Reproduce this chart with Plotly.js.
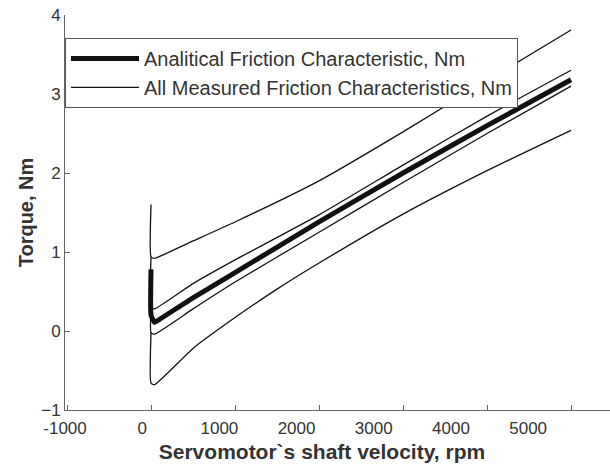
<!DOCTYPE html>
<html>
<head>
<meta charset="utf-8">
<script src="https://cdn.plot.ly/plotly-3.0.1.min.js"></script>
<style>html,body{margin:0;padding:0;background:#fff;}#chart{width:610px;height:469px;}</style>
</head>
<body>
<div id="chart"></div>
<script>
// Analytical friction characteristic (Nm) vs velocity (rpm)
const analyticalX = [0, 0, 40, 60, 500, 1000, 2000, 3000, 4000, 5000];
const analyticalY = [0.78, 0.2, 0.11, 0.12, 0.42, 0.74, 1.38, 2.0, 2.6, 3.18];

// Measured friction characteristics (Nm)
const measured1X = [0, 0, 40, 500, 1000, 2000, 3000, 4000, 5000];
const measured1Y = [1.6, 0.94, 0.92, 1.14, 1.38, 1.9, 2.52, 3.17, 3.81];
const measured2X = [0, 0, 40, 500, 1000, 2000, 3000, 4000, 5000];
const measured2Y = [0.94, 0.3, 0.28, 0.6, 0.9, 1.47, 2.1, 2.72, 3.3];
const measured3X = [0, 0, 40, 500, 1000, 2000, 3000, 4000, 5000];
const measured3Y = [0.3, -0.02, -0.04, 0.28, 0.62, 1.25, 1.88, 2.5, 3.1];
const measured4X = [0, 0, 40, 500, 1000, 1500, 2000, 3000, 4000, 5000];
const measured4Y = [-0.02, -0.66, -0.68, -0.22, 0.17, 0.53, 0.86, 1.48, 2.03, 2.54];

const xTickVals = [-1000, 0, 1000, 2000, 3000, 4000, 5000];
const xTickText = ['-1000', '0', '1000', '2000', '3000', '4000', '5000'];
const yTickVals = [-1, 0, 1, 2, 3, 4];

const labelAnalytical = 'Analitical Friction Characteristic, Nm';
const labelMeasured = 'All Measured Friction Characteristics, Nm';

const lineColor = '#111111';
const traces = [];
[[measured1X, measured1Y], [measured2X, measured2Y], [measured3X, measured3Y], [measured4X, measured4Y]].forEach((m, i) => {
  traces.push({
    x: m[0], y: m[1], type: 'scatter', mode: 'lines',
    line: {color: lineColor, width: 1.3, shape: 'spline', smoothing: 0.5},
    name: labelMeasured, legendgroup: 'meas', showlegend: i === 0,
    legendrank: 2
  });
});
traces.push({
  x: analyticalX, y: analyticalY, type: 'scatter', mode: 'lines',
  line: {color: lineColor, width: 5, shape: 'spline', smoothing: 0.4},
  name: labelAnalytical, legendrank: 1
});
// empty trace to hold the labelled axis
traces.push({x: [], y: [], xaxis: 'x2', yaxis: 'y', showlegend: false, hoverinfo: 'skip'});

const font = {family: 'Liberation Sans, Arial, sans-serif', color: '#333333'};

const layout = {
  width: 610, height: 469,
  margin: {l: 65, r: 0, t: 15, b: 59, pad: 0},
  paper_bgcolor: '#ffffff', plot_bgcolor: 'rgba(0,0,0,0)',
  font: Object.assign({size: 17}, font),
  showlegend: true,
  legend: {
    x: 0, xanchor: 'left', y: 0.942, yanchor: 'top',
    bgcolor: '#ffffff', bordercolor: '#555555', borderwidth: 1,
    font: Object.assign({size: 20}, font),
    itemwidth: 68, tracegroupgap: 0
  },
  xaxis: {
    range: [-1024, 5464], showline: true, linecolor: '#666666', linewidth: 1,
    ticks: 'inside', ticklen: 5, tickcolor: '#666666',
    tickvals: xTickVals, showticklabels: false,
    showgrid: false, zeroline: false, fixedrange: true
  },
  xaxis2: {
    domain: [0, 0.943], anchor: 'free', position: 0,
    range: [-1000, 5658], showline: false, ticks: '',
    tickvals: xTickVals, ticktext: xTickText, ticklabelstandoff: 6,
    tickfont: Object.assign({size: 17}, font),
    showgrid: false, zeroline: false,
    title: {text: '<b>Servomotor`s shaft velocity, rpm</b>', font: Object.assign({size: 21}, font), standoff: 7}
  },
  yaxis: {
    range: [-1, 4], showline: true, linecolor: '#666666', linewidth: 1,
    ticks: 'inside', ticklen: 5, tickcolor: '#666666',
    tickvals: yTickVals, tickfont: Object.assign({size: 17}, font),
    showgrid: false, zeroline: false,
    title: {text: '<b>Torque, Nm</b>', font: Object.assign({size: 20}, font), standoff: 2}
  }
};

Plotly.newPlot('chart', traces, layout, {displayModeBar: false, staticPlot: true});
</script>
</body>
</html>
